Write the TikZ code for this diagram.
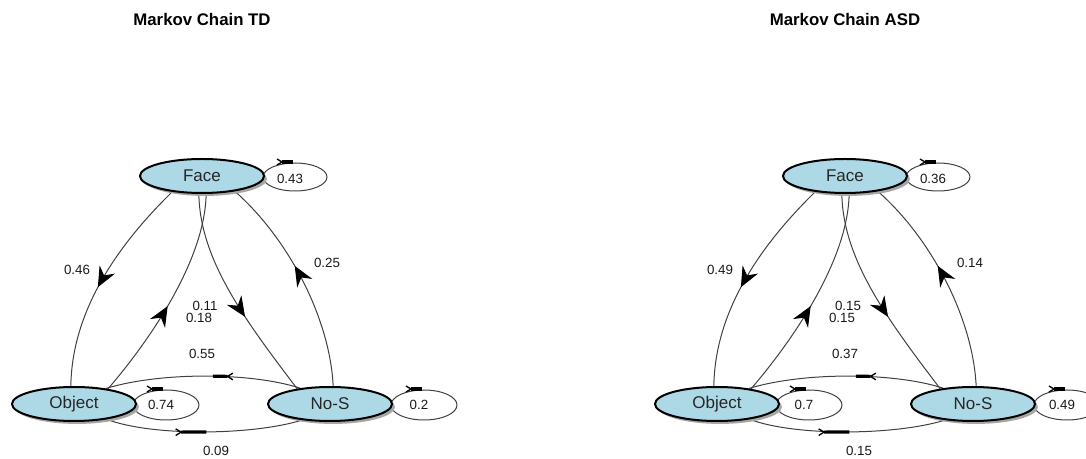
\documentclass[tikz,border=0pt]{standalone}
\usepackage{fontspec}
\setmainfont{Liberation Sans}
\usetikzlibrary{shapes.geometric,arrows.meta,decorations.markings,shadows}
\pgfdeclarelayer{background}
\pgfsetlayers{background,main}
\definecolor{nodeblue}{HTML}{ADD8E6}
\definecolor{edgegray}{HTML}{404040}
\tikzset{
  state/.style={ellipse, draw=black, line width=1.5pt, fill=nodeblue,
    minimum width=93pt, minimum height=25.5pt, inner sep=0pt,
    font=\fontsize{12.75}{15}\selectfont, text=black!85,
    general shadow={fill=black!35, shadow xshift=2.2pt, shadow yshift=-2.2pt}},
  edge/.style={draw=edgegray, line width=0.75pt},
  lbl/.style={font=\fontsize{10}{12}\selectfont, text=black!90, inner sep=0pt},
  titletext/.style={font=\bfseries\fontsize{12.6}{15}\selectfont, inner sep=0pt},
  midarrow/.style={postaction=decorate, decoration={markings,
    mark=at position #1 with {\arrow[black]{Stealth[length=15pt,width=13pt,inset=5pt]}}}},
  bararrow/.style={postaction=decorate, decoration={markings,
    mark=at position #1 with {\draw[black,line width=2.4pt] (-11pt,0) -- (0,0);
      \draw[black,line width=1pt] (-15pt,2.5pt) -- (-11pt,0) -- (-15pt,-2.5pt);}}},
  bararrowlong/.style={postaction=decorate, decoration={markings,
    mark=at position #1 with {\draw[black,line width=2.4pt] (-19pt,0) -- (0,0);
      \draw[black,line width=1pt] (-23pt,2.5pt) -- (-19pt,0) -- (-23pt,-2.5pt);}}},
}
\newcommand\loopbar[1]{%
  \draw[black,line width=2.4pt] ([shift={(-11,0)}]#1) -- (#1);
  \draw[black,line width=1pt] ([shift={(-16,-3)}]#1) -- ([shift={(-11,0)}]#1) -- ([shift={(-16,3)}]#1);}
% #1 F->O, #2 O->F, #3 F->N, #4 N->F, #5 N->O, #6 O->N, #7 F->F, #8 O->O, #9 N->N
\newcommand\mkpanel[9]{%
  \node[titletext] (title\sfx) at (202,20) {\ttl};
  \node[state] (f\sfx) at (202,176) {Face};
  \node[state] (o\sfx) at (74,404) {Object};
  \node[state] (n\sfx) at (330,404) {No-S};
  \coordinate (lf\sfx) at ([shift={(91,-14)}]f\sfx.center);
  \coordinate (lo\sfx) at ([shift={(89,-15)}]o\sfx.center);
  \coordinate (ln\sfx) at ([shift={(92,-15)}]n\sfx.center);
  \begin{pgfonlayer}{background}
    \draw[edge, midarrow=0.54] (f\sfx.208) .. controls (125,238) and (72,305) .. (o\sfx.100);
    \draw[edge, midarrow=0.46] (o\sfx.24) .. controls (150,340) and (205,260) .. (f\sfx.283);
    \draw[edge, midarrow=0.6] (f\sfx.260) .. controls (200,260) and (245,320) .. (n\sfx.155);
    \draw[edge, midarrow=0.57] (n\sfx.80) .. controls (330,320) and (290,240) .. (f\sfx.335);
    \draw[edge, bararrow=0.45] (n\sfx.152) .. controls (250,372) and (160,372) .. (o\sfx.26);
    \draw[edge, bararrowlong=0.51] (o\sfx.335) .. controls (150,436) and (250,436) .. (n\sfx.210);
    \draw[edge] (f\sfx.center) ++(93,1) ellipse [x radius=32, y radius=14];
    \draw[edge] (o\sfx.center) ++(92,1) ellipse [x radius=33, y radius=15];
    \draw[edge] (n\sfx.center) ++(94,1) ellipse [x radius=33, y radius=15];
    \loopbar{lf\sfx}
    \loopbar{lo\sfx}
    \loopbar{ln\sfx}
  \end{pgfonlayer}
  \node[lbl] (pfo\sfx) at (77,270) {#1};
  \node[lbl] (pof\sfx) at (199,318) {#2};
  \node[lbl] (pfn\sfx) at (205,306) {#3};
  \node[lbl] (pnf\sfx) at (327,263) {#4};
  \node[lbl] (pno\sfx) at (202,354) {#5};
  \node[lbl] (pon\sfx) at (216,451) {#6};
  \node[lbl] (pff\sfx) at (290,179) {#7};
  \node[lbl] (poo\sfx) at (161,405) {#8};
  \node[lbl] (pnn\sfx) at (419,405) {#9};
}
\begin{document}
\begin{tikzpicture}[x=0.75pt,y=-0.75pt]
  \useasboundingbox (0,0) rectangle (1086,459);
  \begin{scope}
    \def\sfx{T}\def\ttl{Markov Chain TD}
    \mkpanel{0.46}{0.18}{0.11}{0.25}{0.55}{0.09}{0.43}{0.74}{0.2}
  \end{scope}
  \begin{scope}[xshift=482.25pt]
    \def\sfx{A}\def\ttl{Markov Chain ASD}
    \mkpanel{0.49}{0.15}{0.15}{0.14}{0.37}{0.15}{0.36}{0.7}{0.49}
  \end{scope}
\end{tikzpicture}
\end{document}
